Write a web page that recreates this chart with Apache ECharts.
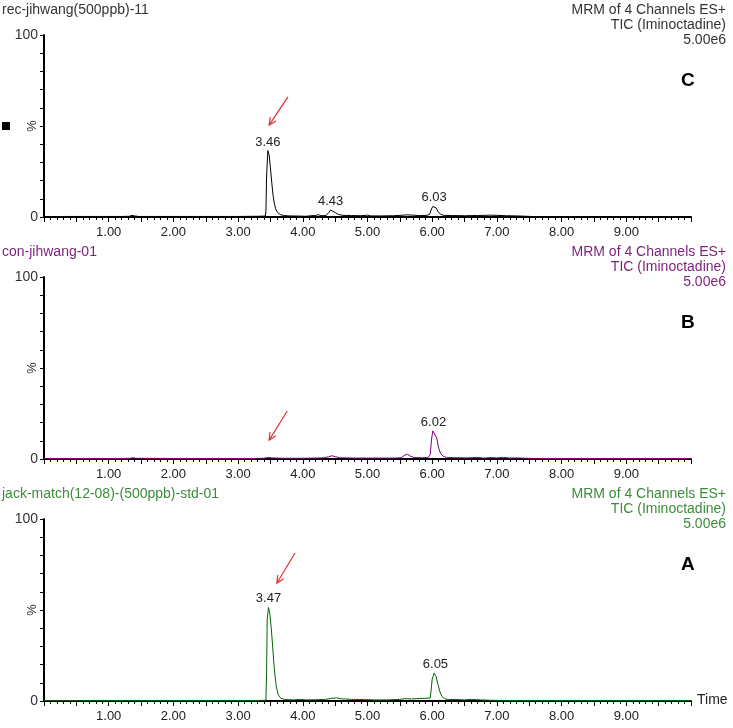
<!DOCTYPE html>
<html><head><meta charset="utf-8">
<script src="https://cdn.jsdelivr.net/npm/echarts@6/dist/echarts.min.js"></script>
<style>html,body{margin:0;padding:0;background:#fff}#c{width:733px;height:728px}</style>
</head><body><div id="c"></div>
<script>
// Panel C: rec-jihwang(500ppb)-11  [time (min), relative intensity %]
var recData = [[0.00,0.2],[0.40,0.3],[0.80,0.3],[1.20,0.3],[1.32,0.4],[1.36,0.9],[1.40,0.6],[1.46,0.3],[2.00,0.3],[2.50,0.3],[3.00,0.3],[3.30,0.4],[3.42,0.5],[3.43,3.0],[3.44,22.0],[3.46,36.5],[3.48,34.0],[3.50,27.0],[3.52,19.0],[3.54,12.0],[3.56,7.5],[3.58,4.5],[3.61,2.5],[3.65,1.4],[3.70,0.8],[3.80,0.6],[3.95,0.5],[4.05,0.4],[4.12,0.7],[4.20,0.8],[4.24,1.3],[4.28,0.7],[4.36,0.8],[4.40,2.4],[4.43,3.8],[4.46,3.5],[4.50,2.5],[4.55,1.4],[4.62,0.9],[4.75,0.8],[4.90,0.7],[5.00,1.0],[5.05,0.6],[5.20,0.6],[5.40,0.7],[5.55,1.0],[5.62,1.2],[5.70,1.0],[5.80,0.8],[5.92,0.9],[5.96,1.5],[5.99,4.5],[6.01,5.8],[6.03,6.2],[6.06,5.0],[6.09,3.0],[6.13,1.5],[6.18,0.9],[6.30,0.8],[6.50,0.7],[6.70,0.8],[6.90,1.0],[7.00,0.9],[7.15,0.7],[7.30,0.6],[7.45,0.4],[7.60,0.2],[8.50,0.2],[10.00,0.2]];
// Panel B: con-jihwang-01
var conData = [[0.00,0.3],[0.60,0.3],[1.20,0.3],[1.34,0.4],[1.38,0.7],[1.42,0.4],[2.00,0.3],[2.60,0.3],[3.20,0.3],[3.40,0.4],[3.46,0.9],[3.52,0.6],[3.70,0.4],[4.00,0.4],[4.30,0.6],[4.40,1.2],[4.45,1.8],[4.50,1.3],[4.58,0.7],[4.80,0.5],[5.10,0.5],[5.40,0.5],[5.52,0.7],[5.58,2.2],[5.62,2.6],[5.66,1.6],[5.72,0.8],[5.85,0.7],[5.94,0.9],[5.97,2.5],[5.99,11.0],[6.01,15.5],[6.04,15.3],[6.07,11.5],[6.10,6.0],[6.13,3.0],[6.17,1.5],[6.22,0.9],[6.35,0.7],[6.55,0.6],[6.70,0.9],[6.80,0.5],[6.90,0.8],[7.00,0.6],[7.10,0.9],[7.20,0.5],[7.30,0.6],[7.45,0.4],[7.60,0.3],[8.50,0.3],[10.00,0.3]];
// Panel A: jack-match(12-08)-(500ppb)-std-01
var stdData = [[0.00,0.2],[0.60,0.2],[1.20,0.3],[2.00,0.3],[2.80,0.3],[3.30,0.3],[3.43,0.4],[3.44,15.0],[3.45,45.0],[3.47,51.5],[3.49,48.0],[3.51,41.0],[3.53,32.0],[3.55,22.0],[3.57,14.0],[3.59,8.0],[3.62,3.5],[3.66,1.5],[3.72,0.8],[3.85,0.6],[3.95,0.9],[4.05,0.6],[4.20,0.7],[4.35,0.9],[4.45,1.5],[4.52,1.7],[4.60,1.2],[4.75,0.9],[4.95,0.8],[5.10,0.6],[5.30,0.6],[5.50,0.9],[5.60,1.3],[5.68,1.1],[5.80,1.4],[5.90,1.5],[5.97,1.6],[5.98,5.0],[6.00,12.0],[6.03,15.4],[6.06,13.5],[6.09,9.0],[6.12,5.0],[6.15,2.5],[6.19,1.2],[6.25,0.8],[6.40,0.8],[6.50,0.6],[6.60,0.9],[6.75,0.6],[6.90,0.4],[7.10,0.3],[8.00,0.3],[10.00,0.3]];

var recPeaks = [[3.46,36.5],[4.43,3.8],[6.03,6.2]];
var conPeaks = [[6.02,15.5]];
var stdPeaks = [[3.47,51.5],[6.05,15.4]];

var recArrow = [[3.77,66.0],[3.48,50.5]];
var conArrow = [[3.76,26.4],[3.48,10.4]];
var stdArrow = [[3.88,81.3],[3.60,64.8]];

var panelTitles = ['rec-jihwang(500ppb)-11','con-jihwang-01','jack-match(12-08)-(500ppb)-std-01'];
var panelLetters = ['C','B','A'];
var infoLines = ['MRM of 4 Channels ES+','TIC (Iminoctadine)','5.00e6'];
var xTickLabels = ['1.00','2.00','3.00','4.00','5.00','6.00','7.00','8.00','9.00'];

var lineColors = ['#000000','#800080','#006400'];
var textColors = ['#333333','#7a1f7a','#3c8c3c'];
var tops = [35,277,519];
var FONT = 'Liberation Sans, Arial, sans-serif';

var chart = echarts.init(document.getElementById('c'));
var datasets = [recData, conData, stdData];
var peaks = [recPeaks, conPeaks, stdPeaks];
var arrows = [recArrow, conArrow, stdArrow];

var grids=[], xAxes=[], yAxes=[], series=[], graphics=[];
for (var i=0;i<3;i++){
  grids.push({left:44, width:647, top:tops[i], height:182});
  xAxes.push({gridIndex:i, type:'value', min:0, max:10, interval:0.5,
    axisLine:{onZero:false, lineStyle:{color:'#000', width:2}},
    axisTick:{length:5, lineStyle:{color:'#000', width:1}},
    minorTick:{show:true, splitNumber:5, length:3, lineStyle:{color:'#000', width:1}},
    splitLine:{show:false},
    axisLabel:{color:'#222', fontSize:13, fontFamily:FONT, margin:9, hideOverlap:false,
      formatter:function(v){ var s=v.toFixed(2); return xTickLabels.indexOf(s)>=0 ? s : ''; }}
  });
  yAxes.push({gridIndex:i, type:'value', min:0, max:100, interval:10,
    axisLine:{show:true, lineStyle:{color:'#000', width:2}},
    axisTick:{show:true, length:4, lineStyle:{color:'#000'}},
    splitLine:{show:false},
    axisLabel:{color:'#333', fontSize:14, fontFamily:FONT, margin:6,
      formatter:function(v){ return (v===0||v===100)? String(v) : ''; }}
  });
  series.push({type:'line', xAxisIndex:i, yAxisIndex:i, data:datasets[i], showSymbol:false, symbol:'none',
    lineStyle:{color:lineColors[i], width:1}, itemStyle:{color:lineColors[i]}, animation:false,
    markPoint:{symbol:'circle', symbolSize:0, animation:false,
      label:{show:true, position:'top', distance:2, color:'#222', fontSize:13, fontFamily:FONT, formatter:'{b}'},
      data: peaks[i].map(function(p){ return {name:p[0].toFixed(2), coord:p}; })},
    markLine:{silent:true, animation:false, symbol:['none','none'],
      lineStyle:{color:'#e03030', width:1.2, type:'solid'}, label:{show:false},
      data:[[{coord:arrows[i][0]},{coord:arrows[i][1]}]]}
  });
  var ty = tops[i]-32;
  graphics.push({type:'text', left:2, top:ty, style:{text:panelTitles[i], fill:textColors[i], font:'14px '+FONT}});
  for (var k=0;k<3;k++){
    graphics.push({type:'text', right:7, top:ty+k*15.3, style:{text:infoLines[k], fill:textColors[i], font:'14px '+FONT, textAlign:'right'}});
  }
  graphics.push({type:'text', left:681, top:tops[i]+36, style:{text:panelLetters[i], fill:'#000', font:'bold 19px '+FONT}});
  graphics.push({type:'text', x:31, y:tops[i]+91, rotation:-Math.PI/2, style:{text:'%', fill:'#333', font:'13px '+FONT, textAlign:'center', textVerticalAlign:'middle'}});
}
graphics.push({type:'rect', shape:{x:2, y:122, width:8, height:8}, style:{fill:'#000'}});
graphics.push({type:'text', left:697, top:693, style:{text:'Time', fill:'#222', font:'14px '+FONT}});

chart.setOption({animation:false, backgroundColor:'#fff', grid:grids, xAxis:xAxes, yAxis:yAxes, series:series, graphic:graphics});

// open V arrowheads at the arrow tips, positioned via the axes' own conversion
var heads = [];
for (var j=0;j<3;j++){
  var a = chart.convertToPixel({gridIndex:j}, arrows[j][0]);
  var b = chart.convertToPixel({gridIndex:j}, arrows[j][1]);
  var ang = Math.atan2(a[1]-b[1], a[0]-b[0]);
  var L = 8, sp = 0.45;
  heads.push({type:'polyline', silent:true, shape:{points:[
    [b[0]+L*Math.cos(ang+sp), b[1]+L*Math.sin(ang+sp)], [b[0],b[1]], [b[0]+L*Math.cos(ang-sp), b[1]+L*Math.sin(ang-sp)]]},
    style:{stroke:'#e03030', lineWidth:1.2, fill:null}});
}
chart.setOption({graphic: graphics.concat(heads)});
</script></body></html>
